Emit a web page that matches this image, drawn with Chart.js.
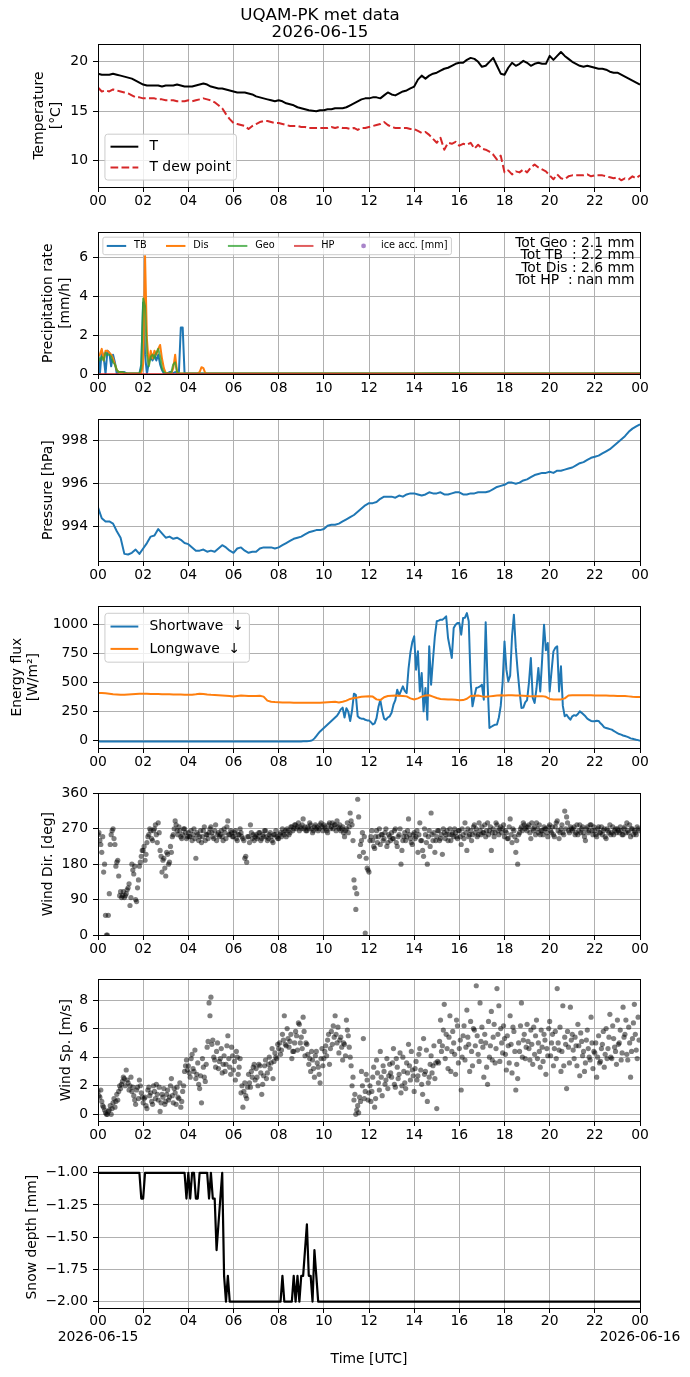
<!DOCTYPE html>
<html>
<head>
<meta charset="utf-8">
<title>UQAM-PK met data</title>
<script src="https://cdn.jsdelivr.net/npm/chart.js@4.4.1/dist/chart.umd.min.js"></script>
<style>
  html, body { margin: 0; padding: 0; background: #fff; }
  #fig { position: relative; width: 690px; height: 1377px; overflow: hidden; background: #fff; }
  #fig canvas { position: absolute; left: 0; }
</style>
</head>
<body>
<div id="fig"></div>
<script>
// ---- data (10-min or 5-min samples from 00 UTC) ----
const hourTicks = [0, 2, 4, 6, 8, 10, 12, 14, 16, 18, 20, 22, 24];
const tempTicks = [10, 15, 20];
const precipTicks = [0, 2, 4, 6];
const pressureTicks = [994, 996, 998];
const fluxTicks = [0, 250, 500, 750, 1000];
const dirTicks = [0, 90, 180, 270, 360];
const speedTicks = [0, 2, 4, 6, 8];
const snowTicks = [-2.0, -1.75, -1.5, -1.25, -1.0];

const tempT = [
  18.8,18.7,18.7,18.7,18.8,18.7, 18.6,18.5,18.4,18.3,18.1,17.9,
  17.7,17.6,17.6,17.6,17.6,17.5, 17.6,17.6,17.6,17.7,17.6,17.5,
  17.5,17.5,17.6,17.7,17.8,17.7, 17.5,17.4,17.3,17.3,17.2,17.1,
  17.0,16.9,16.9,16.9,16.8,16.7, 16.5,16.4,16.3,16.2,16.1,16.0,
  16.1,16.0,15.8,15.7,15.6,15.4, 15.3,15.2,15.1,15.05,15.0,15.1,
  15.1,15.2,15.2,15.3,15.3,15.3, 15.4,15.6,15.8,16.0,16.2,16.3,
  16.3,16.4,16.4,16.3,16.6,16.9, 16.7,16.6,16.8,17.0,17.1,17.3,
  17.5,18.2,18.6,18.3,18.6,18.8, 18.9,19.1,19.3,19.4,19.6,19.8,
  19.9,19.9,20.2,20.4,20.3,20.0, 19.5,19.6,20.0,20.4,19.6,18.8,
  18.7,19.4,19.9,19.6,19.8,20.1, 19.9,19.6,19.8,19.9,19.8,19.8,
  20.6,20.2,20.6,21.0,20.6,20.3, 20.0,19.8,19.6,19.5,19.6,19.5,
  19.4,19.3,19.3,19.2,19.0,18.9, 18.9,18.7,18.5,18.3,18.1,17.9,
  17.7
];
const tempDew = [
  17.4,17.0,17.1,17.0,17.2,17.1, 17.0,16.9,16.8,16.6,16.4,16.4,
  16.3,16.3,16.3,16.3,16.2,16.2, 16.1,16.1,16.1,16.0,16.0,16.0,
  16.1,16.0,16.1,16.2,16.3,16.2, 16.1,15.9,15.6,15.3,14.7,14.2,
  13.8,13.7,13.6,13.5,13.2,13.5, 13.7,13.9,14.0,14.0,13.9,13.8,
  13.8,13.7,13.6,13.5,13.5,13.5, 13.4,13.4,13.3,13.3,13.3,13.3,
  13.3,13.3,13.4,13.3,13.4,13.3, 13.3,13.2,13.3,13.1,13.3,13.3,
  13.4,13.5,13.6,13.7,13.9,13.6, 13.4,13.3,13.3,13.3,13.3,13.2,
  13.2,13.0,12.8,12.9,12.6,12.2, 11.8,12.3,11.1,11.8,11.7,11.9,
  11.5,11.7,11.6,11.8,11.2,11.6, 11.2,11.1,10.9,10.6,10.1,10.5,
  8.8,9.0,8.6,8.9,8.8,9.1, 8.8,9.3,9.6,9.3,9.1,8.9,
  8.5,8.1,8.6,8.2,8.1,8.4, 8.5,8.5,8.5,8.5,8.6,8.4,
  8.5,8.5,8.5,8.4,8.3,8.2, 8.3,8.0,8.2,8.1,8.4,8.2,
  8.5
];

// precipitation rate [mm/h]: 5-min samples 00:00-05:00, then hourly 06..24
const precipTB = [
  1.2,0.0,1.2,0.9,0.0,1.2,1.1,0.4,1.0,0.6,0.0,0.1,
  0.1,0.1,0.1,0.05,0.02,0.02,0.02,0.02,0.02,0.02,0.02,0.5,
  3.7,1.0,0.0,0.6,0.9,0.7,1.0,0.7,1.0,0.5,0.2,0.02,
  0.02,0.05,0.1,0.1,0.05,0.1,0.02,0.1,2.4,2.4,0.02,0.02,
  0.02,0.02,0.02,0.02,0.02,0.02,0.02,0.02,0.02,0.02,0.02,0.02,0.02
];
const precipDis = [
  0.9,1.0,1.3,0.7,1.2,1.2,1.1,1.0,0.8,0.5,0.2,0.1,
  0.08,0.08,0.05,0.03,0.03,0.03,0.03,0.03,0.03,0.03,0.03,0.03,
  0.5,6.1,1.8,0.5,1.2,0.8,1.2,1.0,1.3,1.5,0.8,0.3,
  0.05,0.03,0.03,0.05,0.3,1.0,0.1,0.03,0.03,0.03,0.03,0.03,
  0.03,0.03,0.03,0.03,0.03,0.03,0.1,0.35,0.3,0.05,0.03,0.03,0.03
];
const precipGeo = [
  0.9,0.7,0.9,0.7,1.1,1.0,1.0,0.9,0.6,0.5,0.2,0.1,
  0.1,0.1,0.05,0.03,0.03,0.03,0.03,0.03,0.03,0.03,0.03,0.3,
  3.9,3.5,1.0,0.4,0.9,1.0,0.8,1.1,1.3,0.9,0.3,0.1,
  0.03,0.03,0.03,0.1,0.5,0.6,0.1,0.03,0.03,0.03,0.03,0.03,
  0.03,0.03,0.03,0.03,0.03,0.03,0.03,0.03,0.03,0.03,0.03,0.03,0.03
];
const precipTBTail  = [0.02,0.02,0.02,0.02,0.02,0.02,0.02,0.02,0.02,0.02,0.02,0.02,0.02,0.02,0.02,0.02,0.02,0.02,0.02];
const precipDisTail = [0.03,0.03,0.03,0.03,0.03,0.03,0.03,0.03,0.03,0.03,0.03,0.03,0.03,0.03,0.03,0.03,0.03,0.03,0.03];
const precipGeoTail = [0.03,0.03,0.03,0.03,0.03,0.03,0.03,0.03,0.03,0.04,0.04,0.03,0.03,0.03,0.03,0.03,0.03,0.03,0.03];
const precipHP = [0,0,0,0,0,0,0,0,0,0,0,0,0,0,0,0,0,0,0,0,0,0,0,0,0]; // hourly
const iceAcc = [];
const precipTotals = ['Tot Geo : 2.1 mm', 'Tot TB  : 2.2 mm', 'Tot Dis : 2.6 mm', 'Tot HP  : nan mm'];

// pressure [hPa], 10-min
const pressure = [
  994.9,994.4,994.25,994.25,994.15,993.8, 993.5,992.75,992.72,992.8,992.95,992.75,
  993.0,993.25,993.55,993.6,993.9,993.7, 993.5,993.55,993.45,993.5,993.4,993.25,
  993.2,993.05,992.9,992.9,992.95,992.85, 992.9,992.85,993.0,993.15,993.05,992.9,
  992.8,993.0,993.05,992.9,992.8,992.85, 992.85,993.0,993.05,993.05,993.05,993.0,
  993.05,993.15,993.25,993.35,993.45,993.5, 993.55,993.65,993.75,993.8,993.85,993.85,
  993.9,994.05,994.1,994.1,994.15,994.25, 994.35,994.45,994.55,994.7,994.85,995.0,
  995.1,995.1,995.15,995.3,995.4,995.4, 995.4,995.35,995.45,995.4,995.5,995.55,
  995.55,995.5,995.45,995.5,995.6,995.55, 995.55,995.6,995.5,995.5,995.55,995.6,
  995.6,995.5,995.5,995.55,995.55,995.6, 995.6,995.6,995.65,995.75,995.85,995.9,
  995.95,996.05,996.05,996.0,996.05,996.15, 996.2,996.3,996.4,996.45,996.5,996.5,
  996.55,996.5,996.6,996.6,996.65,996.7, 996.75,996.85,996.95,997.0,997.1,997.2,
  997.25,997.3,997.4,997.5,997.6,997.75, 997.9,998.05,998.2,998.4,998.55,998.65,
  998.75
];

// shortwave down [W/m2], 5-min
const swDown = [
  -5,-6,-7,-7,-8,-8,-8,-8,-8,-8,-8,-8,
  -8,-8,-8,-8,-8,-8,-8,-8,-8,-8,-8,-8,
  -7,-7,-7,-7,-7,-7,-7,-7,-7,-7,-7,-7,
  -7,-7,-7,-7,-7,-7,-7,-7,-7,-7,-7,-7,
  -6,-6,-6,-6,-6,-6,-6,-6,-6,-6,-6,-6,
  -6,-6,-6,-6,-6,-6,-6,-6,-6,-6,-6,-6,
  -6,-6,-6,-6,-6,-6,-6,-6,-6,-6,-6,-6,
  -7,-7,-7,-7,-7,-7,-7,-7,-7,-7,-7,-7,
  -7,-7,-7,-7,-7,-7,-7,-7,-7,-7,-6,-6,
  -6,-5,-5,-4,-3,-1,5,20,40,60,80,95,
  110,125,140,155,170,185,200,215,240,270,285,200,
  280,250,170,260,405,395,210,195,190,190,180,175,
  175,160,140,150,195,290,350,260,190,180,200,210,
  240,310,350,440,390,430,468,430,411,620,760,850,
  900,612,770,425,583,253,454,181,813,483,698,900,
  1029,1035,1043,1043,1055,1072,885,800,713,971,1000,1014,
  1014,914,1057,1060,1100,1029,511,296,380,454,460,468,
  483,354,1020,500,109,120,130,138,140,200,300,500,
  856,612,511,560,900,1086,800,600,425,282,285,330,
  350,500,713,368,325,450,627,425,700,1000,780,842,
  425,600,770,800,813,425,641,300,210,224,200,181,
  210,220,215,230,253,240,225,210,190,180,170,167,
  167,172,170,150,135,115,110,105,100,95,85,75,
  65,57,52,45,40,35,28,20,17,12,8,5,
  0
];
// longwave down [W/m2], 10-min
const lwDown = [
  412,410,408,405,400,398, 395,395,398,400,402,404,
  405,404,403,402,402,401, 400,400,399,398,398,397,
  396,396,400,405,403,398, 395,394,392,390,388,386,
  380,385,390,388,386,385, 385,388,380,345,335,333,
  332,330,330,329,328,328, 328,327,327,326,326,328,
  330,332,334,335,330,335, 345,360,368,372,378,380,
  382,380,356,350,375,385, 388,390,388,385,382,365,
  355,365,380,390,392,380, 368,360,358,356,354,352,
  348,350,362,385,388,390, 382,378,382,386,390,392,
  390,392,392,390,390,388, 386,382,382,384,384,378,
  360,356,354,356,365,390, 392,392,392,392,392,391,
  390,390,390,389,388,388, 386,386,385,382,378,376,
  376
];

// wind direction [deg]: two 5-min series, the second offset by 2.5 min
const windDir = [
  255,240,210,160,50,0,105,255,270,230,185,150,
  110,100,95,105,120,75,180,155,90,120,175,200,
  215,190,235,255,265,240,270,255,285,215,160,195,
  150,205,185,210,255,290,265,275,250,255,270,245,
  260,250,240,270,195,255,250,235,265,240,255,260,
  275,250,265,240,260,255,250,270,245,290,255,260,
  250,265,240,255,260,245,195,185,250,280,245,240,
  255,250,260,245,250,265,240,255,250,235,255,250,
  245,260,270,255,250,265,260,275,270,280,275,265,
  270,295,275,265,270,280,260,275,270,265,280,275,
  280,270,260,285,275,270,280,290,270,265,275,250,
  270,260,310,280,140,65,345,200,240,210,5,170,
  160,250,240,220,265,250,230,255,245,270,235,250,
  260,245,270,225,255,180,240,260,250,295,245,230,
  260,250,210,285,240,200,255,180,265,310,240,210,
  250,265,245,205,260,255,240,270,255,250,260,245,
  265,230,255,285,215,250,265,255,280,270,255,265,
  275,260,250,285,265,215,270,260,280,255,275,270,
  250,260,245,295,235,265,210,180,260,275,285,270,
  265,280,245,270,275,285,260,255,265,275,270,250,
  280,260,255,275,290,245,270,260,315,300,265,275,
  265,275,260,255,280,270,260,240,275,265,280,255,
  265,250,275,260,255,270,245,265,280,260,255,270,
  270,260,265,255,275,285,260,250,270,265,255,270
];
const windDir2 = [
  260,230,250,180,0,50,230,265,245,175,190,100,
  95,110,100,115,130,95,165,175,85,140,185,215,
  225,205,250,270,245,265,280,235,260,200,190,170,
  210,180,225,250,270,280,255,265,245,270,260,250,
  250,265,255,245,260,240,265,250,275,255,245,270,
  260,245,280,255,250,265,240,260,275,255,265,250,
  260,245,255,270,250,240,200,250,235,260,255,250,
  245,260,240,255,265,250,245,260,240,255,265,245,
  255,250,260,265,270,255,275,265,280,270,285,275,
  280,270,265,275,285,270,265,280,275,270,285,265,
  275,265,280,270,285,280,265,275,280,270,260,265,
  285,275,290,240,120,105,300,230,260,250,195,165,
  240,265,225,250,235,270,255,240,260,225,255,240,
  245,265,235,250,270,215,250,240,265,255,235,255,
  245,265,255,240,215,270,235,250,225,255,260,240,
  265,240,255,270,245,265,255,240,260,270,250,265,
  250,270,245,260,270,255,240,275,260,250,285,255,
  260,280,265,255,275,260,250,285,265,270,260,280,
  265,245,275,255,270,250,240,255,270,265,280,275,
  275,260,285,265,255,270,280,265,255,270,260,275,
  265,275,250,285,265,260,280,255,270,285,260,270,
  270,255,280,265,260,275,250,270,260,280,265,275,
  255,270,260,275,265,250,270,260,255,275,265,260,
  265,275,255,270,260,265,280,270,255,260,275,265
];
// wind speed [m/s]: two 5-min series, the second offset by 2.5 min
const windSpeed = [
  1.6,1.2,0.9,0.5,0.1,0.0,0.3,0.0,0.8,0.5,1.4,1.6,
  1.8,2.3,2.5,3.1,2.2,2.0,1.6,1.3,0.7,1.9,2.4,1.5,
  0.8,1.2,0.4,1.9,1.5,0.7,1.6,2.1,1.0,0.2,1.4,1.8,
  0.9,1.7,1.2,2.5,0.8,1.5,1.9,1.1,0.5,1.6,3.0,3.8,
  3.4,2.6,4.2,3.0,2.5,3.6,1.8,0.8,3.3,2.3,4.7,7.8,
  8.2,5.2,3.8,4.4,3.2,3.9,2.9,4.1,3.5,5.5,3.3,4.7,
  3.1,2.4,4.0,3.3,1.5,0.5,2.2,1.1,2.8,1.9,2.6,3.5,
  3.2,2.0,3.4,1.4,2.7,3.8,2.9,4.0,3.6,2.5,4.3,3.9,
  4.6,4.2,5.6,6.9,4.8,5.3,5.1,3.9,4.4,5.8,4.5,6.3,
  5.4,6.8,4.1,4.9,3.5,3.0,3.8,2.6,4.4,3.3,2.2,4.6,
  3.9,4.8,5.2,3.5,5.8,6.2,6.9,5.0,4.3,5.4,3.8,4.9,
  6.6,5.5,4.0,2.0,1.0,0.0,0.6,1.2,3.0,5.3,1.6,2.4,
  1.5,0.9,2.6,0.5,3.8,2.2,4.4,1.3,3.0,2.4,1.8,3.5,
  2.6,4.6,1.9,3.3,2.8,1.5,4.0,2.2,3.6,4.9,2.4,3.1,
  1.6,3.7,2.7,4.6,2.1,5.3,3.0,0.9,2.6,4.1,3.4,2.5,
  0.4,3.6,6.6,4.8,7.7,5.6,3.2,6.9,4.4,5.0,2.8,6.2,
  4.6,1.7,5.5,3.8,7.3,4.9,6.5,3.4,5.9,9.0,4.2,7.8,
  6.1,2.6,5.0,2.1,4.0,7.2,5.4,3.6,8.8,7.6,6.0,4.3,
  5.3,3.1,4.8,6.9,2.9,5.8,1.7,2.5,4.4,7.8,5.2,3.9,
  6.3,4.6,5.9,3.5,4.2,6.6,5.0,3.3,4.7,5.6,2.8,4.1,
  6.5,5.0,3.4,5.8,8.8,4.5,3.0,7.6,5.4,1.8,4.7,7.5,
  5.6,3.9,4.8,6.3,2.7,5.1,4.4,3.6,5.9,4.0,6.8,3.2,
  4.3,2.6,5.5,3.7,4.9,3.3,6.0,4.6,7.0,3.9,5.3,4.4,
  6.6,5.0,3.8,7.5,5.6,4.2,6.1,2.6,5.3,7.7,4.5,6.8
];
const windSpeed2 = [
  1.3,1.7,0.6,0.3,0.0,0.2,0.6,0.4,1.1,0.9,1.0,2.0,
  2.1,2.6,2.0,2.4,1.7,2.6,1.9,1.0,1.7,1.1,2.0,1.2,
  1.1,0.6,1.7,1.3,0.9,2.0,1.1,1.4,1.9,0.8,1.2,0.7,
  1.4,1.0,2.0,1.3,1.8,0.7,1.2,2.2,0.9,2.0,3.4,3.1,
  2.9,3.9,3.2,4.5,2.8,2.1,2.7,3.9,2.6,3.5,5.1,6.9,
  4.9,4.0,3.3,5.0,3.7,4.6,3.5,3.0,4.8,3.9,2.8,4.1,
  3.7,4.4,2.8,3.9,2.0,1.6,1.3,1.9,2.2,3.0,3.3,2.4,
  2.6,3.5,2.9,2.1,3.4,2.5,3.5,3.2,4.6,3.7,4.0,4.9,
  5.0,4.5,5.2,4.9,6.0,4.7,5.6,4.4,5.0,5.5,6.4,5.0,
  4.6,5.8,5.0,4.2,3.9,4.4,3.2,4.1,3.6,2.8,3.9,3.4,
  4.4,4.1,5.6,4.6,4.9,5.4,5.6,6.1,5.2,4.7,5.0,4.1,
  5.9,4.7,3.4,2.6,1.4,0.3,0.1,0.9,2.0,1.1,2.8,1.0,
  2.0,1.6,3.3,1.1,2.9,1.7,2.6,3.4,2.1,3.9,2.7,2.9,
  3.6,2.1,3.9,2.5,4.3,2.0,3.0,1.8,2.9,3.4,4.4,2.7,
  3.2,2.4,4.2,3.1,1.4,2.8,4.5,2.2,3.5,2.9,4.8,3.6,
  3.7,5.1,4.4,5.9,3.9,4.6,5.4,3.0,5.8,4.2,6.6,3.6,
  5.2,4.0,6.2,4.7,5.4,3.0,4.4,6.0,4.8,5.5,3.7,5.1,
  4.7,5.6,3.3,6.5,4.8,3.8,6.3,4.6,5.6,3.7,5.0,6.2,
  4.2,5.5,3.6,4.9,6.1,4.4,3.5,5.0,6.2,4.0,5.6,4.7,
  5.1,3.8,4.9,6.1,5.5,3.9,4.4,5.9,3.7,5.2,4.6,6.0,
  4.1,5.6,4.6,3.9,5.0,6.1,4.4,3.4,4.9,5.8,3.6,5.2,
  4.5,5.4,3.4,4.8,5.7,4.1,3.0,5.2,4.6,3.8,5.0,4.4,
  5.0,4.0,3.6,4.6,5.8,4.2,3.9,5.4,4.0,6.2,4.7,3.5,
  4.9,5.9,4.3,5.4,6.6,3.8,5.0,4.4,6.4,5.6,3.9,5.2
];

// snow depth [mm]: 5-min 00:00-10:00, then hourly 11..24
const snowDepth = [
  -1.0,-1.0,-1.0,-1.0,-1.0,-1.0,-1.0,-1.0,-1.0,-1.0,-1.0,-1.0,
  -1.0,-1.0,-1.0,-1.0,-1.0,-1.0,-1.0,-1.0,-1.0,-1.0,-1.0,-1.2,
  -1.2,-1.0,-1.0,-1.0,-1.0,-1.0,-1.0,-1.0,-1.0,-1.0,-1.0,-1.0,
  -1.0,-1.0,-1.0,-1.0,-1.0,-1.0,-1.0,-1.0,-1.0,-1.0,-1.0,-1.2,
  -1.0,-1.2,-1.0,-1.0,-1.2,-1.2,-1.0,-1.0,-1.0,-1.0,-1.0,-1.2,
  -1.0,-1.2,-1.2,-1.6,-1.4,-1.2,-1.0,-1.8,-2.0,-1.8,-2.0,-2.0,
  -2.0,-2.0,-2.0,-2.0,-2.0,-2.0,-2.0,-2.0,-2.0,-2.0,-2.0,-2.0,
  -2.0,-2.0,-2.0,-2.0,-2.0,-2.0,-2.0,-2.0,-2.0,-2.0,-2.0,-2.0,
  -2.0,-2.0,-1.8,-2.0,-2.0,-2.0,-2.0,-2.0,-1.8,-2.0,-1.8,-2.0,
  -1.8,-1.8,-1.6,-1.4,-1.8,-1.8,-2.0,-1.6,-1.8,-2.0,-2.0,-2.0,
  -2.0
];
const snowDepthTail = [-2.0,-2.0,-2.0,-2.0,-2.0,-2.0,-2.0,-2.0,-2.0,-2.0,-2.0,-2.0,-2.0,-2.0];

// ---- helpers ----
const FONT = "'DejaVu Sans', 'Liberation Sans', sans-serif";
const FS = 13.9;
const PLOT_LEFT = 98, RIGHT_PAD = 50, PLOT_H = 143, PAD_TOP = 12;

Chart.defaults.font.family = FONT;
Chart.defaults.font.size = FS;
Chart.defaults.color = '#000';
Chart.defaults.animation = false;

const series = (values, stepMin, startHour = 0) =>
  values.map((v, i) => ({ x: startHour + i * stepMin / 60, y: v }));
const hh = v => String(v % 24).padStart(2, '0');

const GRID = { color: '#b0b0b0', lineWidth: 1, tickColor: '#000', tickWidth: 1, tickLength: 5, drawTicks: true };
const BORDER = { display: true, color: '#000', width: 1 };

function xAxis(height, last) {
  return {
    type: 'linear', min: 0, max: 24,
    afterBuildTicks: s => { s.ticks = hourTicks.map(v => ({ value: v })); },
    ticks: {
      autoSkip: false, maxRotation: 0, minRotation: 0, padding: 1,
      font: { size: FS, lineHeight: last ? 1.12 : 1.2 },
      callback: v => {
        if (last && v === 0) return ['00', '2026-06-15'];
        if (last && v === 24) return ['00', '2026-06-16'];
        return hh(v);
      }
    },
    grid: GRID, border: BORDER,
    title: last
      ? { display: true, text: 'Time [UTC]', font: { size: FS }, padding: { top: 0, bottom: 9.4 } }
      : { display: false },
    afterFit: s => { s.height = height; }
  };
}

function yAxis(min, max, ticks, title, titlePad, fmt) {
  return {
    type: 'linear', position: 'left', min, max,
    afterBuildTicks: s => { s.ticks = ticks.map(v => ({ value: v })); },
    ticks: { autoSkip: false, padding: 5, callback: fmt || (v => String(v)) },
    grid: GRID, border: BORDER,
    title: { display: true, text: title, font: { size: FS }, padding: { top: titlePad, bottom: 0 } },
    afterFit: s => { s.width = PLOT_LEFT; }
  };
}

// black box round the axes (top and right spines too)
const frame = {
  id: 'frame',
  afterDraw(chart) {
    const { ctx, chartArea: a } = chart;
    const x0 = Math.round(a.left - 0.5) + 0.5, x1 = Math.round(a.right - 0.5) + 0.5;
    const y0 = Math.round(a.top - 0.5) + 0.5, y1 = Math.round(a.bottom - 0.5) + 0.5;
    ctx.save();
    ctx.strokeStyle = '#000';
    ctx.lineWidth = 1;
    ctx.strokeRect(x0, y0, x1 - x0, y1 - y0);
    ctx.restore();
  }
};

// matplotlib-like legend drawn inside the axes
function boxLegend(cfg) {
  return {
    id: 'boxLegend',
    afterDatasetsDraw(chart) {
      const { ctx, chartArea: a } = chart;
      const fs = cfg.fontSize, rowH = cfg.rowHeight || fs;
      const pad = 0.4 * fs, hl = 2 * fs, htp = 0.8 * fs, cs = 2 * fs, ls = 0.5 * fs, bap = 0.5 * fs;
      const ncol = cfg.columns || 1, nrow = Math.ceil(cfg.items.length / ncol);
      ctx.save();
      ctx.font = fs + 'px ' + FONT;
      const colW = [];
      for (let c = 0; c < ncol; c++) {
        let tw = 0;
        for (let r = 0; r < nrow; r++) {
          const it = cfg.items[c * nrow + r];
          if (it) tw = Math.max(tw, ctx.measureText(it.label).width);
        }
        colW.push(hl + htp + tw);
      }
      const w = 2 * pad + colW.reduce((s, v) => s + v, 0) + (ncol - 1) * cs;
      const h = 2 * pad + nrow * rowH + (nrow - 1) * ls;
      const x = a.left + bap;
      const y = cfg.loc === 'lower left' ? a.bottom - bap - h : a.top + bap;
      ctx.beginPath();
      if (ctx.roundRect) ctx.roundRect(x, y, w, h, 0.2 * fs); else ctx.rect(x, y, w, h);
      ctx.fillStyle = 'rgba(255,255,255,0.8)';
      ctx.fill();
      ctx.strokeStyle = '#cccccc';
      ctx.lineWidth = 1;
      ctx.stroke();
      let cx = x + pad;
      for (let c = 0; c < ncol; c++) {
        for (let r = 0; r < nrow; r++) {
          const it = cfg.items[c * nrow + r];
          if (!it) continue;
          const cy = y + pad + r * (rowH + ls) + rowH / 2;
          if (it.dot) {
            ctx.beginPath();
            ctx.arc(cx + hl / 2, cy, it.dot, 0, 2 * Math.PI);
            ctx.fillStyle = it.color;
            ctx.fill();
          } else {
            ctx.beginPath();
            ctx.setLineDash(it.dash || []);
            ctx.moveTo(cx, cy);
            ctx.lineTo(cx + hl, cy);
            ctx.strokeStyle = it.color;
            ctx.lineWidth = 2;
            ctx.stroke();
            ctx.setLineDash([]);
          }
          ctx.fillStyle = '#000';
          ctx.textAlign = 'left';
          ctx.textBaseline = 'middle';
          ctx.fillText(it.label, cx + hl + htp, cy);
        }
        cx += colW[c] + cs;
      }
      ctx.restore();
    }
  };
}

function cornerText(lines) {
  return {
    id: 'cornerText',
    afterDatasetsDraw(chart) {
      const { ctx, chartArea: a } = chart;
      ctx.save();
      ctx.font = FS + 'px ' + FONT;
      ctx.fillStyle = '#000';
      ctx.textAlign = 'right';
      ctx.textBaseline = 'alphabetic';
      const xr = a.right - 0.01 * (a.right - a.left);
      lines.forEach((t, i) => ctx.fillText(t, xr, a.top + 14.3 + i * 12.6));
      ctx.restore();
    }
  };
}

const legendItem = ds => ({ label: ds.label, color: ds.borderColor, dash: ds.borderDash });

function makeChart(top, height, type, datasets, scales, plugins, titleOpts) {
  const c = document.createElement('canvas');
  c.width = 690; c.height = height;
  c.style.top = top + 'px';
  c.style.width = '690px';
  c.style.height = height + 'px';
  document.getElementById('fig').appendChild(c);
  return new Chart(c, {
    type,
    data: { datasets },
    options: {
      responsive: false,
      maintainAspectRatio: false,
      animation: false,
      events: [],
      layout: { padding: { top: titleOpts ? 0 : PAD_TOP, right: RIGHT_PAD, left: 0, bottom: 0 } },
      scales,
      plugins: {
        legend: { display: false },
        tooltip: { enabled: false },
        title: titleOpts || { display: false }
      }
    },
    plugins: [frame].concat(plugins || [])
  });
}

const lineDs = (label, data, color, extra) => Object.assign({
  label, data, borderColor: color, backgroundColor: color, borderWidth: 2,
  pointRadius: 0, fill: false, tension: 0, borderJoinStyle: 'round'
}, extra || {});

// ---- 1. temperature ----
const dsT = lineDs('T', series(tempT, 10), '#000000', { order: 1 });
const dsTd = lineDs('T dew point', series(tempDew, 10), '#d62728', { borderDash: [7.7, 3.3], order: 0 });
makeChart(0, 44 + PLOT_H + 30, 'line', [dsT, dsTd],
  { x: xAxis(30), y: yAxis(7.32, 21.8, tempTicks, ['Temperature', '[°C]'], 31.5) },
  [boxLegend({ fontSize: FS, loc: 'lower left', items: [legendItem(dsT), legendItem(dsTd)] })],
  {
    display: true, text: ['UQAM-PK met data', '2026-06-15'], color: '#000',
    font: { size: 16.7, weight: 'normal', lineHeight: 1.02 }, padding: { top: 7.5, bottom: 2.5 }
  });

// ---- 2. precipitation ----
const dsTB = lineDs('TB', series(precipTB, 5).concat(series(precipTBTail, 60, 6)), '#1f77b4', { order: 4 });
const dsDis = lineDs('Dis', series(precipDis, 5).concat(series(precipDisTail, 60, 6)), '#ff7f0e', { order: 3 });
const dsGeo = lineDs('Geo', series(precipGeo, 5).concat(series(precipGeoTail, 60, 6)), 'rgba(44,160,44,0.75)', { order: 2 });
const dsHP = lineDs('HP', series(precipHP, 60), 'rgba(214,39,40,0.75)', { order: 1 });
const dsIce = { type: 'scatter', label: 'ice acc. [mm]', data: iceAcc, backgroundColor: 'rgba(148,103,189,0.8)', pointRadius: 2.5, order: 0 };
makeChart(231 - PAD_TOP, PAD_TOP + PLOT_H + 30, 'line', [dsTB, dsDis, dsGeo, dsHP, dsIce],
  { x: xAxis(30), y: yAxis(0, 7.32, precipTicks, ['Precipitation rate', '[mm/h]'], 40.5) },
  [
    boxLegend({
      fontSize: 9.72, columns: 5, loc: 'upper left',
      items: [legendItem(dsTB), legendItem(dsDis), legendItem(dsGeo), legendItem(dsHP),
              { label: dsIce.label, color: dsIce.backgroundColor, dot: 2.4 }]
    }),
    cornerText(precipTotals)
  ]);

// ---- 3. pressure ----
makeChart(418 - PAD_TOP, PAD_TOP + PLOT_H + 30, 'line',
  [lineDs('Pressure', series(pressure, 10), '#1f77b4')],
  { x: xAxis(30), y: yAxis(992.42, 998.98, pressureTicks, 'Pressure [hPa]', 40) });

// ---- 4. energy flux ----
const dsSW = lineDs('Shortwave  \u2193', series(swDown, 5), '#1f77b4', { order: 1 });
const dsLW = lineDs('Longwave  \u2193', series(lwDown, 10), '#ff7f0e', { order: 0 });
makeChart(605 - PAD_TOP, PAD_TOP + PLOT_H + 30, 'line', [dsSW, dsLW],
  { x: xAxis(30), y: yAxis(-63, 1158, fluxTicks, ['Energy flux', '[W/m\u00b2]'], 8.7) },
  [boxLegend({ fontSize: FS, rowHeight: 15.4, loc: 'upper left', items: [legendItem(dsSW), legendItem(dsLW)] })]);

// ---- 5. wind direction ----
const dotDs = (label, data) => ({
  label, data, backgroundColor: 'rgba(0,0,0,0.5)', borderWidth: 0, pointRadius: 2.6, clip: 0
});
makeChart(792 - PAD_TOP, PAD_TOP + PLOT_H + 30, 'scatter',
  [dotDs('Wind Dir.', series(windDir, 5).concat(series(windDir2, 5, 2.5 / 60)))],
  { x: xAxis(30), y: yAxis(0, 360, dirTicks, 'Wind Dir. [deg]', 40) });

// ---- 6. wind speed ----
makeChart(978 - PAD_TOP, PAD_TOP + PLOT_H + 30, 'scatter',
  [dotDs('Wind Sp.', series(windSpeed, 5).concat(series(windSpeed2, 5, 2.5 / 60)))],
  { x: xAxis(30), y: yAxis(-0.47, 9.45, speedTicks, 'Wind Sp. [m/s]', 58) });

// ---- 7. snow depth ----
makeChart(1165 - PAD_TOP, 1377 - (1165 - PAD_TOP), 'line',
  [lineDs('Snow depth', series(snowDepth, 5).concat(series(snowDepthTail, 60, 11)), '#000000', { borderWidth: 2.2 })],
  {
    x: xAxis(1377 - 1165 - PLOT_H, true),
    y: yAxis(-2.05, -0.95, snowTicks, 'Snow depth [mm]', 24.5, v => v.toFixed(2).replace('-', '\u2212'))
  });
</script>
</body>
</html>
